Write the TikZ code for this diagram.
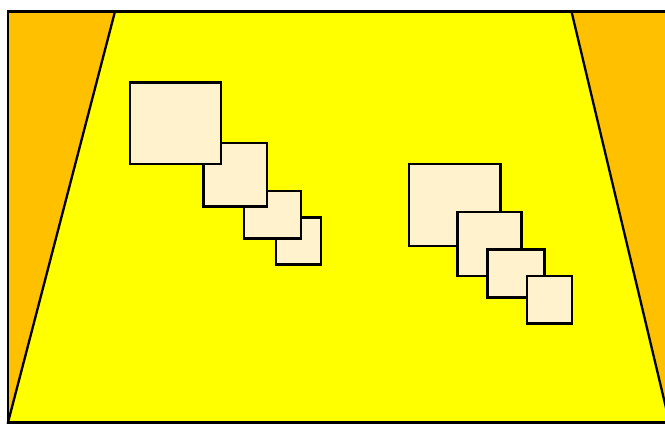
\documentclass[tikz,border=0pt]{standalone}
\definecolor{orangebg}{HTML}{FFC000}
\definecolor{yellowfl}{HTML}{FFFF00}
\definecolor{cream}{HTML}{FFF2CC}
\tikzset{
  edge/.style={draw=black, line width=2.3pt, line join=miter},
  sq/.style={draw=black, fill=cream, line width=2.2pt},
}
\begin{document}
\begin{tikzpicture}[x=1pt,y=-1pt]
\useasboundingbox (0,0) rectangle (665,429);
\clip (0,0) rectangle (665,429);
\fill[white] (0,0) rectangle (665,429);
% background room
\filldraw[edge, fill=orangebg] (8,11.5) rectangle (700,422.5);
% floor
\filldraw[edge, fill=yellowfl] (115,11.5) -- (571.5,11.5) -- (669.5,422.5) -- (8,422.5) -- cycle;
\draw[edge] (8,11.5) -- (700,11.5);
\draw[edge] (8,422.5) -- (700,422.5);
% left group (larger drawn on top)
\draw[sq] (276,217.5) rectangle (321,264.5);
\draw[sq] (244,191) rectangle (301,238.5);
\draw[sq] (203.5,143) rectangle (267,206.5);
\draw[sq] (130,82.5) rectangle (221,164);
% right group (smaller drawn on top)
\draw[sq] (409,164) rectangle (500.5,246);
\draw[sq] (457.5,212) rectangle (521.5,276);
\draw[sq] (487.5,249.5) rectangle (544.5,297.5);
\draw[sq] (527,276) rectangle (572,323.5);
\end{tikzpicture}
\end{document}
